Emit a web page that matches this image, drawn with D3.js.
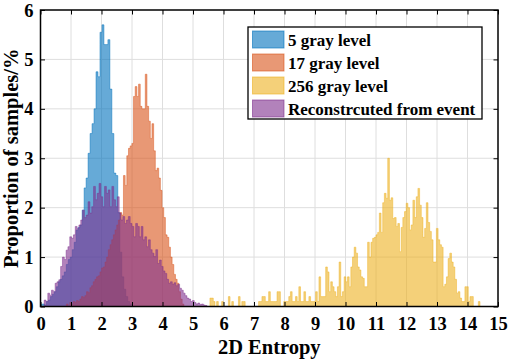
<!DOCTYPE html>
<html>
<head>
<meta charset="utf-8">
<script src="https://cdn.jsdelivr.net/npm/d3@7/dist/d3.min.js"></script>
<style>
  body { margin: 0; background: #fff; }
  text { font-family: "Liberation Serif", "Times New Roman", serif; font-weight: bold; fill: #000; }
</style>
</head>
<body>
<svg id="chart" width="510" height="362"></svg>
<script>
// histogram bins: first edge, bin width, proportion (%) per bin
const seriesNames = ["5 gray level", "17 gray level", "256 gray level", "Reconstrcuted from event"];
const seriesColors = ["#0072BD", "#D95319", "#EDB120", "#7E2F8E"];

const blueStart = 0.0, blueBin = 0.065;
const blueValues = [0.05, 0.05, 0.03, 0.1, 0.13, 0.2, 0.25, 0.3, 0.4, 0.5, 0.55, 0.62, 0.7, 0.85, 0.95, 1.0,
  1.15, 1.3, 1.55, 1.6, 1.65, 1.95, 2.4, 2.6, 3.1, 3.5, 3.7, 4.0, 4.75, 4.65, 5.55, 5.7, 5.3, 5.3, 5.4, 4.4,
  3.5, 2.7, 2.65, 1.9, 1.1, 0.6, 0.35, 0.2, 0.1, 0.05];

const orangeStart = 0.85, orangeBin = 0.055;
const orangeValues = [0.05, 0.0, 0.08, 0.05, 0.1, 0.08, 0.12, 0.1, 0.15, 0.2, 0.18, 0.22, 0.3, 0.28, 0.38, 0.42,
  0.5, 0.55, 0.6, 0.62, 0.7, 0.78, 0.8, 0.9, 1.0, 1.15, 1.25, 1.35, 1.45, 1.55, 1.65, 1.75, 1.9, 1.85, 2.65, 2.45,
  3.05, 3.2, 3.25, 3.3, 4.25, 4.45, 4.25, 4.5, 4.05, 4.0, 4.0, 4.7, 4.05, 3.75, 3.4, 3.7, 3.15, 2.75, 2.8, 2.6,
  2.35, 2.0, 1.8, 1.45, 1.4, 1.2, 1.0, 0.85, 0.65, 0.55, 0.47, 0.3, 0.15, 0.05];

const yellowStart = 5.5, yellowBin = 0.055;
const yellowValues = [0, 0.17, 0.17, 0.1, 0, 0.1, 0, 0, 0.1, 0, 0, 0, 0.2, 0, 0.1, 0, 0, 0, 0.2, 0,
  0.1, 0.1, 0, 0, 0, 0, 0, 0, 0, 0, 0.1, 0.1, 0.2, 0.2, 0.1, 0.1, 0.3, 0.1, 0.1, 0.1,
  0.1, 0.3, 0.3, 0, 0, 0.1, 0.1, 0.1, 0.2, 0.3, 0.1, 0.1, 0.2, 0.1, 0.4, 0.1, 0.1, 0.3, 0.1, 0.1,
  0.2, 0.1, 0.1, 0.1, 0.3, 0.1, 0.6, 0.2, 0.2, 0.2, 0.8, 0.7, 0.3, 0.5, 0.4, 0.3, 0.2, 0.4, 0.9, 0.2,
  0.3, 0.6, 0.5, 0.6, 0.4, 0.8, 1.0, 1.2, 1.08, 0.8, 0.74, 0.6, 0.57, 0.4, 0.4, 1.3, 1.0, 1.3, 1.38, 1.4,
  1.45, 1.5, 1.89, 1.5, 2.1, 2.29, 2.19, 3.0, 2.15, 2.2, 1.78, 1.8, 1.62, 1.68, 1.11, 1.6, 1.8, 1.92, 2.09, 2.0,
  1.55, 1.65, 2.15, 1.8, 2.22, 2.39, 2.05, 1.8, 1.4, 1.58, 2.1, 1.7, 1.52, 1.35, 0.9, 0.9, 1.58, 1.35, 1.25, 1.2,
  0.4, 0.45, 0.6, 0.97, 1.08, 0.9, 0.8, 0.55, 0.27, 0.3, 0.17, 0.1, 0.1, 0.4, 0.4, 0.1, 0.2, 0.2, 0, 0,
  0, 0.1];

const purpleStart = 0.12, purpleBin = 0.06;
const purpleValues = [0.13, 0.1, 0.27, 0.23, 0.33, 0.3, 0.47, 0.5, 0.54, 0.81, 1.0, 0.95, 1.14, 1.21, 1.41, 1.38,
  1.45, 1.62, 1.58, 1.65, 1.75, 1.95, 1.8, 1.85, 2.12, 1.89, 2.02, 2.43, 2.16, 2.29, 2.49, 2.22, 2.02, 2.43, 2.29, 2.36,
  2.02, 2.43, 2.16, 2.02, 2.22, 1.89, 1.75, 1.82, 1.68, 1.75, 1.82, 1.68, 1.62, 1.41, 1.68, 1.62, 1.41, 1.62, 1.35, 1.41,
  1.21, 1.35, 1.15, 1.08, 1.01, 1.15, 0.87, 0.94, 0.81, 0.72, 0.67, 0.55, 0.47, 0.5, 0.45, 0.48, 0.42, 0.45, 0.37, 0.33,
  0.27, 0.22, 0.17, 0.15, 0.1, 0.12, 0.08, 0.05, 0.07, 0.04, 0.05, 0.03, 0.02];

const xTickValues = [0, 1, 2, 3, 4, 5, 6, 7, 8, 9, 10, 11, 12, 13, 14, 15];
const yTickValues = [0, 1, 2, 3, 4, 5, 6];

const svg = d3.select("#chart");
const width = +svg.attr("width");
const height = +svg.attr("height");
const margin = { top: 10, right: 12, bottom: 55.5, left: 40.5 };

const x = d3.scaleLinear().domain([0, 15]).range([margin.left, width - margin.right]);
const y = d3.scaleLinear().domain([0, 6]).range([height - margin.bottom, margin.top]);

const series = [
  { name: seriesNames[0], color: seriesColors[0], start: blueStart, bin: blueBin, values: blueValues },
  { name: seriesNames[1], color: seriesColors[1], start: orangeStart, bin: orangeBin, values: orangeValues },
  { name: seriesNames[2], color: seriesColors[2], start: yellowStart, bin: yellowBin, values: yellowValues },
  { name: seriesNames[3], color: seriesColors[3], start: purpleStart, bin: purpleBin, values: purpleValues }
];

// grid
svg.append("g")
  .selectAll("line")
  .data(xTickValues.slice(1, -1))
  .enter()
  .append("line")
  .attr("x1", d => x(d)).attr("x2", d => x(d))
  .attr("y1", y(0)).attr("y2", y(6))
  .attr("stroke", "#dedede").attr("stroke-width", 1);

svg.append("g")
  .selectAll("line")
  .data(yTickValues.slice(1, -1))
  .enter()
  .append("line")
  .attr("x1", x(0)).attr("x2", x(15))
  .attr("y1", d => y(d)).attr("y2", d => y(d))
  .attr("stroke", "#dedede").attr("stroke-width", 1);

// histograms
const area = d3.area()
  .x(d => x(d.edge))
  .y0(y(0))
  .y1(d => y(d.value))
  .curve(d3.curveStepAfter);

series.forEach(s => {
  const pts = s.values.map((v, i) => ({ edge: s.start + i * s.bin, value: v }));
  pts.push({ edge: s.start + s.values.length * s.bin, value: s.values[s.values.length - 1] });
  svg.append("path")
    .datum(pts)
    .attr("d", area)
    .attr("fill", s.color)
    .attr("fill-opacity", 0.6)
    .attr("stroke", s.color)
    .attr("stroke-opacity", 0.75)
    .attr("stroke-width", 0.6);
});

// axes
const tick = 4.5;
const xAxis = svg.append("g")
  .attr("transform", `translate(0,${y(0)})`)
  .call(d3.axisBottom(x).tickValues(xTickValues).tickFormat(d3.format("d"))
    .tickSize(-tick).tickSizeOuter(0).tickPadding(10));
const yAxis = svg.append("g")
  .attr("transform", `translate(${x(0)},0)`)
  .call(d3.axisLeft(y).tickValues(yTickValues).tickFormat(d3.format("d"))
    .tickSize(-tick).tickSizeOuter(0).tickPadding(7));
svg.append("g")
  .attr("transform", `translate(0,${y(6)})`)
  .call(d3.axisTop(x).tickValues(xTickValues).tickSize(-tick).tickSizeOuter(0).tickFormat(""));
svg.append("g")
  .attr("transform", `translate(${x(15)},0)`)
  .call(d3.axisRight(y).tickValues(yTickValues).tickSize(-tick).tickSizeOuter(0).tickFormat(""));

svg.selectAll(".domain").remove();
svg.selectAll(".tick line").attr("stroke", "#000").attr("stroke-width", 1);
xAxis.selectAll("text").attr("font-size", 18.5).attr("font-family", null);
yAxis.selectAll("text").attr("font-size", 18.5).attr("font-family", null).attr("dy", "0.33em");

svg.append("rect")
  .attr("x", x(0)).attr("y", y(6))
  .attr("width", x(15) - x(0)).attr("height", y(0) - y(6))
  .attr("fill", "none").attr("stroke", "#000").attr("stroke-width", 1.5);

// axis titles
svg.append("text")
  .attr("x", (x(0) + x(15)) / 2)
  .attr("y", 354)
  .attr("text-anchor", "middle")
  .attr("font-size", 20.5)
  .text("2D Entropy");

svg.append("text")
  .attr("transform", "rotate(-90)")
  .attr("x", -(y(0) + y(6)) / 2)
  .attr("y", 18)
  .attr("text-anchor", "middle")
  .attr("font-size", 20.5)
  .text("Proportion of samples/%");

// legend
const legend = svg.append("g").attr("transform", "translate(248,27)");
legend.append("rect")
  .attr("width", 234).attr("height", 92)
  .attr("fill", "#fff").attr("stroke", "#000").attr("stroke-width", 1.3);

const items = legend.selectAll(".item")
  .data(series)
  .enter()
  .append("g")
  .attr("transform", (d, i) => `translate(4.5,${4 + i * 23})`);

items.append("rect")
  .attr("width", 31.5).attr("height", 17)
  .attr("fill", d => d.color).attr("fill-opacity", 0.6)
  .attr("stroke", d => d.color).attr("stroke-opacity", 0.6).attr("stroke-width", 1);

items.append("text")
  .attr("x", 35.5)
  .attr("y", 14.5)
  .attr("font-size", 17)
  .text(d => d.name);
</script>
</body>
</html>
